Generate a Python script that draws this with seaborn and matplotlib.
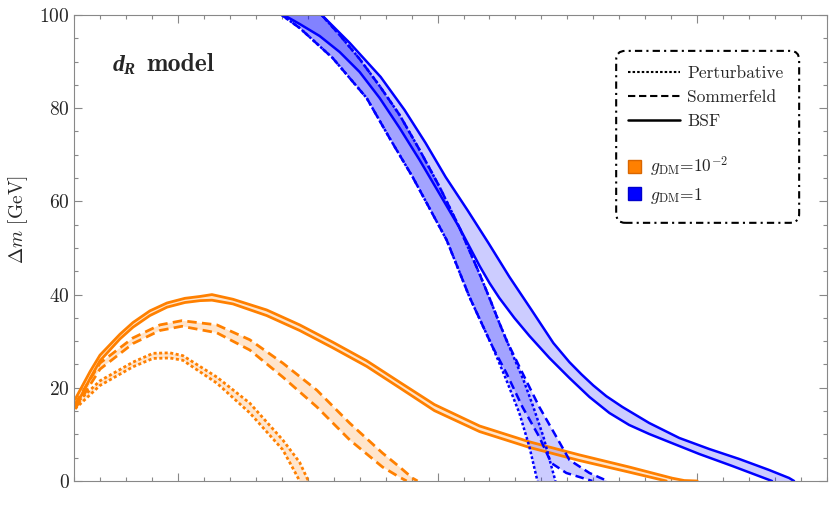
import numpy as np
import matplotlib
matplotlib.use("Agg")
import matplotlib.pyplot as plt
import seaborn as sns
from matplotlib.lines import Line2D
from matplotlib.patches import Patch, Rectangle, FancyBboxPatch
from matplotlib.legend_handler import HandlerPatch
from matplotlib.ticker import MultipleLocator, NullFormatter

# orange band (g_DM = 1e-2)
or_bsf_up_x = [0.604, 0.662, 0.700, 0.777, 0.827, 0.892, 0.958, 1.027, 1.085, 1.131, 1.212, 1.342,
               1.469, 1.596, 1.727, 1.854, 1.988, 2.162, 2.354, 2.546, 2.738, 2.904, 2.950, 3.000]
or_bsf_up_y = [17.5, 23.5, 27.0, 31.5, 34.0, 36.5, 38.2, 39.2, 39.6, 40.0, 39.0, 36.7,
               33.5, 29.8, 25.8, 21.2, 16.4, 11.8, 8.4, 5.6, 3.0, 0.6, 0.1, 0.0]
or_bsf_lo_x = [0.604, 0.662, 0.700, 0.777, 0.827, 0.892, 0.958, 1.027, 1.085, 1.131, 1.212, 1.342,
               1.469, 1.596, 1.727, 1.854, 1.988, 2.162, 2.354, 2.546, 2.738, 2.881]
or_bsf_lo_y = [15.8, 22.0, 25.8, 30.5, 33.0, 35.5, 37.3, 38.3, 38.7, 38.8, 38.0, 35.5,
               32.3, 28.6, 24.6, 20.0, 15.1, 10.6, 7.2, 4.4, 1.9, 0.0]

or_som_up_x = [0.604, 0.700, 0.827, 0.931, 1.015, 1.150, 1.277, 1.404, 1.535, 1.662, 1.788, 1.854, 1.904, 1.923]
or_som_up_y = [16.5, 25.3, 30.7, 33.5, 34.4, 33.5, 30.3, 25.3, 19.5, 12.4, 6.0, 3.0, 0.6, 0.0]
or_som_lo_x = [0.604, 0.700, 0.827, 0.931, 1.015, 1.150, 1.277, 1.404, 1.535, 1.662, 1.788, 1.854, 1.881]
or_som_lo_y = [15.5, 24.0, 29.5, 32.3, 33.2, 31.8, 28.1, 22.3, 15.9, 8.8, 3.0, 0.8, 0.0]

or_per_up_x = [0.604, 0.700, 0.827, 0.904, 0.969, 1.019, 1.150, 1.277, 1.404, 1.469, 1.500, 1.508]
or_per_up_y = [16.5, 21.5, 25.5, 27.4, 27.5, 26.9, 22.3, 16.7, 8.8, 4.0, 0.3, 0.0]
or_per_lo_x = [0.604, 0.700, 0.827, 0.904, 0.969, 1.019, 1.150, 1.277, 1.404, 1.450, 1.469]
or_per_lo_y = [15.5, 20.5, 24.5, 26.3, 26.4, 25.9, 21.0, 14.6, 6.7, 2.0, 0.0]

# blue band (g_DM = 1)
bl_bsf_up_x = [1.554, 1.662, 1.781, 1.873, 1.954, 2.031, 2.115, 2.196, 2.277, 2.362, 2.446, 2.508,
               2.554, 2.600, 2.650, 2.712, 2.815, 2.931, 3.046, 3.162, 3.277, 3.354, 3.373]
bl_bsf_up_y = [100, 93.99, 86.70, 79.61, 72.53, 65.24, 58.15, 51.07, 43.78, 36.70, 29.61, 25.5,
               22.9, 20.5, 18.2, 15.88, 12.45, 9.23, 6.87, 4.72, 2.36, 0.64, 0.0]
bl_bsf_lo_x = [1.408, 1.469, 1.546, 1.623, 1.700, 1.777, 1.854, 1.931, 2.008, 2.085, 2.162, 2.200,
               2.238, 2.296, 2.354, 2.431, 2.508, 2.585, 2.662, 2.738, 2.815, 2.892, 3.008, 3.135,
               3.288]
bl_bsf_lo_y = [100, 98.07, 95.49, 92.06, 87.77, 82.19, 75.75, 68.88, 61.59, 54.29, 46.14, 42.49,
               39.27, 34.98, 31.12, 26.39, 22.10, 18.03, 14.59, 12.02, 10.09, 8.37, 5.79, 3.22,
               0.0]

bl_per_up_x = [1.554, 1.623, 1.700, 1.777, 1.854, 1.931, 2.008, 2.085, 2.162, 2.200, 2.238, 2.285,
               2.331, 2.369, 2.408, 2.435, 2.454]
bl_per_up_y = [100, 95.71, 90.56, 84.76, 78.54, 71.03, 63.09, 54.29, 44.42, 39.27, 33.91, 27.68,
               21.67, 15.88, 9.44, 3.86, 0.0]
bl_per_lo_x = [1.400, 1.469, 1.596, 1.727, 1.815, 1.904, 2.035, 2.123, 2.212, 2.265, 2.315, 2.354,
               2.381, 2.385]
bl_per_lo_y = [100, 97.21, 90.77, 82.19, 73.61, 65.24, 51.72, 39.48, 28.76, 21.67, 14.59, 7.30,
               0.86, 0.0]

bl_som_up_x = [1.554, 1.623, 1.700, 1.777, 1.854, 1.931, 2.008, 2.085, 2.162, 2.200, 2.238, 2.265,
               2.327, 2.392, 2.458, 2.508, 2.585, 2.654]
bl_som_up_y = [100, 95.71, 90.56, 84.76, 78.54, 71.03, 63.09, 54.29, 44.42, 39.27, 33.91, 30.26,
               23.18, 15.88, 9.44, 4.51, 1.72, 0.0]
bl_som_lo_x = [1.400, 1.469, 1.596, 1.727, 1.815, 1.904, 2.035, 2.123, 2.212, 2.265, 2.327, 2.392,
               2.438, 2.496, 2.596]
bl_som_lo_y = [100, 97.21, 90.77, 82.19, 73.61, 65.24, 51.72, 39.48, 28.76, 23.18, 15.88, 9.44,
               3.86, 1.72, 0.0]

y_ticks = [0, 20, 40, 60, 80, 100]
line_labels = ["Perturbative", "Sommerfeld", "BSF"]
coupling_labels = [r"$g_{\rm DM}$=$10^{-2}$", r"$g_{\rm DM}$=1"]

ORANGE = (1.0, 0.5, 0.0)
BLUE = (0.0, 0.0, 1.0)
DOT = (0, (1.1, 0.9))
DASH = (0, (3.4, 1.9))

sns.set_theme(style="ticks")
plt.rcParams["font.family"] = "cmr10"
plt.rcParams["mathtext.fontset"] = "cm"
plt.rcParams["mathtext.it"] = "Liberation Serif:italic:bold"
plt.rcParams["mathtext.rm"] = "Liberation Serif:bold"
plt.rcParams["axes.unicode_minus"] = False
plt.rcParams["axes.formatter.use_mathtext"] = True


def draw_band(ax, xu, yu, xl, yl, color, ls, lw):
    px = np.concatenate([xu, xl[::-1]])
    py = np.concatenate([yu, yl[::-1]])
    ax.fill(px, py, color=color, alpha=0.2, lw=0)
    for xs, ys in [(xu, yu), (xl, yl)]:
        sns.lineplot(x=xs, y=ys, ax=ax, color=color, lw=lw, linestyle=ls,
                     sort=False, estimator=None)


fig = plt.figure(figsize=(8.3, 5.32), dpi=100)
ax = fig.add_axes([0.0892, 0.0959, 0.9072, 0.8759])

draw_band(ax, or_per_up_x, or_per_up_y, or_per_lo_x, or_per_lo_y, ORANGE, DOT, 2.0)
draw_band(ax, or_som_up_x, or_som_up_y, or_som_lo_x, or_som_lo_y, ORANGE, DASH, 2.0)
draw_band(ax, or_bsf_up_x, or_bsf_up_y, or_bsf_lo_x, or_bsf_lo_y, ORANGE, "-", 2.0)
draw_band(ax, bl_per_up_x, bl_per_up_y, bl_per_lo_x, bl_per_lo_y, BLUE, DOT, 1.8)
draw_band(ax, bl_som_up_x, bl_som_up_y, bl_som_lo_x, bl_som_lo_y, BLUE, DASH, 1.8)
draw_band(ax, bl_bsf_up_x, bl_bsf_up_y, bl_bsf_lo_x, bl_bsf_lo_y, BLUE, "-", 1.8)

ax.set_xlim(0.6, 3.5)
ax.set_ylim(0, 100)
ax.set_yticks(y_ticks)
ax.yaxis.set_minor_locator(MultipleLocator(5))
ax.xaxis.set_major_locator(MultipleLocator(1))
ax.xaxis.set_minor_locator(MultipleLocator(0.1))
ax.xaxis.set_major_formatter(NullFormatter())
ax.tick_params(which="both", direction="in", top=True, right=True, color="#888888",
               labelsize=14, pad=3)
ax.tick_params(which="major", length=5.5, width=0.8)
ax.tick_params(which="minor", length=3, width=0.8)
for sp in ax.spines.values():
    sp.set_color("#888888")
    sp.set_linewidth(0.8)

ax.set_xlabel("")
ax.set_ylabel(r"$\Delta m$ [GeV]", fontsize=14)
ax.yaxis.set_label_coords(-0.058, 0.56)

ax.text(0.050, 0.893, r"$d_R$", transform=ax.transAxes, fontsize=17,
        va="center", ha="left", math_fontfamily="custom")
ax.text(0.0955, 0.893, "model", transform=ax.transAxes, fontsize=18.5,
        va="center", ha="left", family="cmb10")

# legend frame (dash-dot, rounded)
frame = FancyBboxPatch((0.720, 0.554), 0.243, 0.369, transform=ax.transAxes,
                       boxstyle="round,pad=0,rounding_size=0.012", mutation_aspect=754 / 466,
                       facecolor="white", edgecolor="black", lw=1.5,
                       linestyle=(0, (3.5, 2.0, 1.0, 2.0)), zorder=5)
ax.add_patch(frame)


def square_patch(legend, orig_handle, xdescent, ydescent, width, height, fontsize):
    s = 9.5
    return Rectangle((-xdescent, -ydescent + (height - s) / 2), s, s)


line_handles = [
    Line2D([], [], color="black", lw=1.5, linestyle=(0, (1.2, 1.0))),
    Line2D([], [], color="black", lw=1.5, linestyle=(0, (3.5, 1.8))),
    Line2D([], [], color="black", lw=1.8, linestyle="-"),
]
leg1 = ax.legend(line_handles, line_labels, loc="upper left", bbox_to_anchor=(0.736, 0.892),
                 borderaxespad=0, borderpad=0, fontsize=12.5, handlelength=3.0,
                 handletextpad=0.4, labelspacing=0.5, frameon=False)
leg1.set_zorder(6)
ax.add_artist(leg1)

patch_handles = [
    Patch(facecolor=ORANGE, edgecolor=(0.85, 0.4, 0.0), lw=1),
    Patch(facecolor=BLUE, edgecolor=(0.0, 0.0, 0.8), lw=1),
]
leg2 = ax.legend(patch_handles, coupling_labels, loc="upper left", bbox_to_anchor=(0.736, 0.700),
                 borderaxespad=0, borderpad=0, fontsize=12.5, handlelength=0.75,
                 handletextpad=0.5, labelspacing=0.38, frameon=False,
                 handler_map={Patch: HandlerPatch(patch_func=square_patch)})
leg2.set_zorder(6)

fig.savefig("out.png", dpi=100)
